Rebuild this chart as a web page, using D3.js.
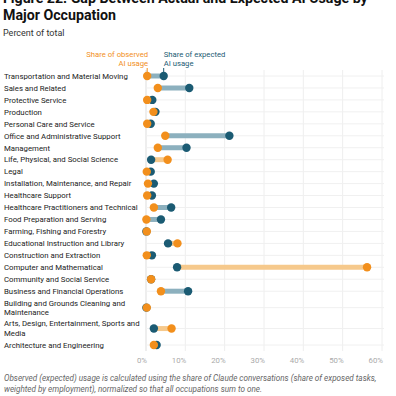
<!DOCTYPE html>
<html>
<head>
<meta charset="utf-8">
<script src="https://cdn.jsdelivr.net/npm/d3@7"></script>
<style>
  body { margin: 0; background: #fff; }
  svg { font-family: Roboto, "Noto Sans", sans-serif; }
</style>
</head>
<body>
<svg id="chart" width="396" height="396"></svg>
<script>
// occupations, top to bottom (label lines)
var occupations = [
  ["Transportation and Material Moving"],
  ["Sales and Related"],
  ["Protective Service"],
  ["Production"],
  ["Personal Care and Service"],
  ["Office and Administrative Support"],
  ["Management"],
  ["Life, Physical, and Social Science"],
  ["Legal"],
  ["Installation, Maintenance, and Repair"],
  ["Healthcare Support"],
  ["Healthcare Practitioners and Technical"],
  ["Food Preparation and Serving"],
  ["Farming, Fishing and Forestry"],
  ["Educational Instruction and Library"],
  ["Construction and Extraction"],
  ["Computer and Mathematical"],
  ["Community and Social Service"],
  ["Business and Financial Operations"],
  ["Building and Grounds Cleaning and", "Maintenance"],
  ["Arts, Design, Entertainment, Sports and", "Media"],
  ["Architecture and Engineering"]
];
// share of observed AI usage (%)
var observed = [0.3, 3.0, 0.3, 1.9, 0.3, 4.9, 3.0, 5.5, 0.2, 0.5, 0.3, 2.0, 0.1, 0.2, 8.0, 0.2, 56.2, 1.3, 3.8, 0.2, 6.5, 2.0];
// share of expected AI usage (%)
var expected = [4.5, 11.0, 1.6, 2.4, 1.2, 21.2, 10.3, 1.3, 1.2, 2.0, 1.5, 6.4, 3.8, 0.1, 5.6, 1.5, 7.9, 1.3, 10.7, 0.1, 2.0, 2.7];
var xTicks = [0, 10, 20, 30, 40, 50, 60];

var orange = "#f28f1c",
    teal = "#1b5b73",
    orangeLight = "#f6c98c",
    tealLight = "#8cb0be";

var svg = d3.select("#chart");

var rows = occupations.map(function(lines, i) {
  return {lines: lines, obs: observed[i], exp: expected[i]};
});

// rows with two label lines get a taller band
var pos = 0;
rows.forEach(function(d) {
  var h = d.lines.length > 1 ? 1.75 : 1;
  d.center = pos + h / 2;
  pos += h;
});

var x = d3.scaleLinear().domain([0, 60]).range([146, 382]);
var y = d3.scaleLinear().domain([0.5, pos - 0.5]).range([76, 345]);

// title (top line is cut by the frame, as in the source)
svg.append("text")
   .attr("x", 3).attr("y", 3.2)
   .attr("font-size", 14.2).attr("font-weight", 700).attr("fill", "#111")
   .text("Figure 22: Gap Between Actual and Expected AI Usage by");
svg.append("text")
   .attr("x", 3).attr("y", 20.3)
   .attr("font-size", 14.2).attr("font-weight", 700).attr("fill", "#111")
   .text("Major Occupation");
svg.append("text")
   .attr("x", 3).attr("y", 36.3)
   .attr("font-size", 9).attr("fill", "#333")
   .text("Percent of total");

// grid
svg.append("g").selectAll("line").data(xTicks).join("line")
   .attr("x1", function(d) { return x(d); })
   .attr("x2", function(d) { return x(d); })
   .attr("y1", 70).attr("y2", 351)
   .attr("stroke", function(d) { return d === 0 ? "#ddd" : "#eee"; })
   .attr("stroke-width", 1);

svg.append("g").selectAll("line").data(rows).join("line")
   .attr("x1", 146).attr("x2", 384)
   .attr("y1", function(d) { return y(d.center); })
   .attr("y2", function(d) { return y(d.center); })
   .attr("stroke", "#f0f0f0");

// x axis labels, right edge on the gridline
svg.append("g").selectAll("text").data(xTicks).join("text")
   .attr("x", function(d) { return x(d) + 1; })
   .attr("y", 362.5)
   .attr("text-anchor", "end")
   .attr("font-size", 7.8).attr("fill", "#aaa")
   .text(function(d) { return d + "%"; });

// labels
var lab = svg.append("g").selectAll("text").data(rows).join("text")
   .attr("x", 4)
   .attr("font-size", 7.8).attr("fill", "#222");
lab.each(function(d) {
  var t = d3.select(this);
  var n = d.lines.length;
  d.lines.forEach(function(l, k) {
    t.append("tspan")
     .attr("x", 4)
     .attr("y", y(d.center) + 2.8 + (k - (n - 1) / 2) * 9.8)
     .text(l);
  });
});

// gap bars
svg.append("g").selectAll("line").data(rows).join("line")
   .attr("x1", function(d) { return x(d.obs); })
   .attr("x2", function(d) { return x(d.exp); })
   .attr("y1", function(d) { return y(d.center); })
   .attr("y2", function(d) { return y(d.center); })
   .attr("stroke", function(d) { return d.exp > d.obs ? tealLight : orangeLight; })
   .attr("stroke-width", 5);

// expected dots, then observed on top
svg.append("g").selectAll("circle").data(rows).join("circle")
   .attr("cx", function(d) { return x(d.exp); })
   .attr("cy", function(d) { return y(d.center); })
   .attr("r", 4.2)
   .attr("fill", teal);
svg.append("g").selectAll("circle").data(rows).join("circle")
   .attr("cx", function(d) { return x(d.obs); })
   .attr("cy", function(d) { return y(d.center); })
   .attr("r", 4.2)
   .attr("fill", orange);

// legend over the first row
var first = rows[0];
var leg = svg.append("g").attr("font-size", 7.7);
leg.append("text").attr("x", x(first.obs) + 1).attr("y", 57)
   .attr("text-anchor", "end").attr("fill", orange).text("Share of observed");
leg.append("text").attr("x", x(first.obs) + 1).attr("y", 66)
   .attr("text-anchor", "end").attr("fill", orange).text("AI usage");
leg.append("text").attr("x", x(first.exp)).attr("y", 57)
   .attr("fill", teal).text("Share of expected");
leg.append("text").attr("x", x(first.exp)).attr("y", 66)
   .attr("fill", teal).text("AI usage");
leg.append("line").attr("x1", x(first.obs)).attr("x2", x(first.obs))
   .attr("y1", 68).attr("y2", 72).attr("stroke", orange);
leg.append("line").attr("x1", x(first.exp)).attr("x2", x(first.exp))
   .attr("y1", 68).attr("y2", 72).attr("stroke", teal);

// footnote
var note = svg.append("text")
   .attr("font-size", 8.15).attr("font-style", "italic").attr("fill", "#666");
note.append("tspan").attr("x", 4).attr("y", 381)
   .text("Observed (expected) usage is calculated using the share of Claude conversations (share of exposed tasks,");
note.append("tspan").attr("x", 4).attr("y", 391.5)
   .text("weighted by employment), normalized so that all occupations sum to one.");
</script>
</body>
</html>
